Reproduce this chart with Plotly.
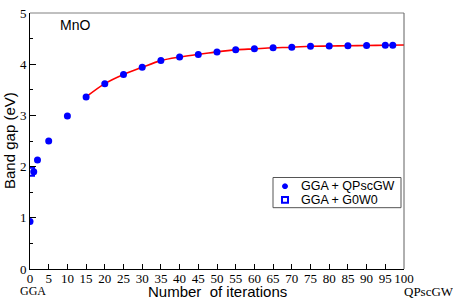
import plotly.graph_objects as go

# GGA + QPscGW iterations
qp_x = [0, 1, 2, 5, 10, 15, 20, 25, 30, 35, 40, 45, 50, 55, 60, 65, 70, 75, 80, 85, 90, 95, 97]
qp_y = [0.93, 1.90, 2.13, 2.50, 2.99, 3.36, 3.62, 3.80, 3.94, 4.07, 4.14, 4.19, 4.24, 4.28,
        4.30, 4.32, 4.33, 4.35, 4.355, 4.36, 4.365, 4.37, 4.37]
# GGA + G0W0
g0_x = [0]
g0_y = [1.90]
# fitted curve
fit_x = [15, 20, 25, 30, 35, 40, 45, 50, 55, 60, 65, 70, 75, 80, 85, 90, 95, 100]
fit_y = [3.36, 3.62, 3.80, 3.94, 4.07, 4.14, 4.19, 4.24, 4.28, 4.30, 4.32, 4.33, 4.35,
         4.355, 4.36, 4.365, 4.37, 4.375]

x_ticks = list(range(0, 101, 5))
y_ticks = [0, 1, 2, 3, 4, 5]
series_names = ["GGA + QPscGW", "GGA + G0W0"]

fig = go.Figure()
fig.add_trace(go.Scatter(x=fit_x, y=fit_y, mode="lines", line=dict(color="red", width=1.6, shape="spline"),
                         showlegend=False, hoverinfo="skip"))
fig.add_trace(go.Scatter(x=qp_x, y=qp_y, mode="markers", name=series_names[0],
                         marker=dict(color="blue", size=7, symbol="circle")))
fig.add_trace(go.Scatter(x=g0_x, y=g0_y, mode="markers", name=series_names[1],
                         marker=dict(color="blue", size=8, symbol="square-open",
                                     line=dict(color="blue", width=2))))

serif = "Liberation Serif"
sans = "Liberation Sans"

PW, PH, L, B = 374, 263, 30, 269  # plot area size and origin (px)


def px(xp):
    return (xp - L) / PW


def py(yp):
    return (B - yp) / PH


fig.update_layout(
    width=453, height=301,
    margin=dict(l=30, r=49, t=6, b=32),
    plot_bgcolor="white", paper_bgcolor="white",
    showlegend=False,
    xaxis=dict(range=[0, 100], tickmode="array", tickvals=x_ticks,
               ticktext=[str(v) for v in x_ticks],
               ticks="inside", ticklen=5, tickcolor="black",
               showline=True, linecolor="black", linewidth=1, mirror=False,
               showgrid=False, zeroline=False, ticklabeloverflow="allow",
               ticklabelstandoff=-3,
               tickfont=dict(family=serif, size=13, color="black")),
    yaxis=dict(range=[0, 5], tickmode="array", tickvals=y_ticks,
               ticks="inside", ticklen=6, tickcolor="black",
               minor=dict(dtick=0.5, ticks="inside", ticklen=3, tickcolor="black"),
               showline=True, linecolor="black", linewidth=1, mirror=False,
               showgrid=False, zeroline=False, ticklabeloverflow="allow",
               tickfont=dict(family=serif, size=13, color="black")),
    shapes=[
        dict(type="line", xref="paper", yref="paper", x0=0, x1=1, y0=1, y1=1,
             line=dict(color="#808080", width=1)),
        dict(type="line", xref="paper", yref="paper", x0=1, x1=1, y0=0, y1=1,
             line=dict(color="#606060", width=1)),
        # legend box and symbols
        dict(type="rect", xref="paper", yref="paper", x0=px(273), x1=px(401), y0=py(206), y1=py(175),
             line=dict(color="#555", width=1), fillcolor="white", layer="above"),
        dict(type="circle", xref="paper", yref="paper", x0=px(282.5), x1=px(287.5), y0=py(186.5), y1=py(181.5),
             line=dict(color="blue", width=1), fillcolor="blue", layer="above"),
        dict(type="rect", xref="paper", yref="paper", x0=px(282), x1=px(288), y0=py(201), y1=py(195),
             line=dict(color="blue", width=2), fillcolor="white", layer="above"),
    ],
    annotations=[
        dict(text="MnO", xref="paper", yref="paper", x=0.075, y=0.955, xanchor="left", yanchor="middle",
             showarrow=False, font=dict(family=sans, size=14, color="black")),
        dict(text="Number  of iterations", xref="paper", yref="paper", x=0.5, y=-34 / 263,
             xanchor="center", yanchor="bottom", showarrow=False,
             font=dict(family=sans, size=15, color="black")),
        dict(text="Band gap (eV)", xref="paper", yref="paper", x=-21 / 374, y=0.5,
             xanchor="center", yanchor="middle", textangle=-90, showarrow=False,
             font=dict(family=sans, size=15, color="black")),
        dict(text="GGA", xref="paper", yref="paper", x=3 / 374, y=-13 / 263, xanchor="center", yanchor="top",
             showarrow=False, font=dict(family=serif, size=12, color="black")),
        dict(text="QPscGW", xref="paper", yref="paper", x=1 - 2 / 374, y=-13 / 263, xanchor="left", yanchor="top",
             showarrow=False, font=dict(family=serif, size=13, color="black")),
        dict(text=series_names[0], xref="paper", yref="paper", x=px(299), y=py(184),
             xanchor="left", yanchor="middle", showarrow=False,
             font=dict(family=sans, size=12.5, color="black")),
        dict(text=series_names[1], xref="paper", yref="paper", x=px(299), y=py(198),
             xanchor="left", yanchor="middle", showarrow=False,
             font=dict(family=sans, size=12.5, color="black")),
    ],
)

fig.write_html("out.html", config={"displayModeBar": False})
with open("out.html", "r", encoding="utf-8") as f:
    html = f.read()
html = html.replace("<head>", "<head><style>html,body{margin:0;padding:0;overflow:hidden;}</style>", 1)
with open("out.html", "w", encoding="utf-8") as f:
    f.write(html)
